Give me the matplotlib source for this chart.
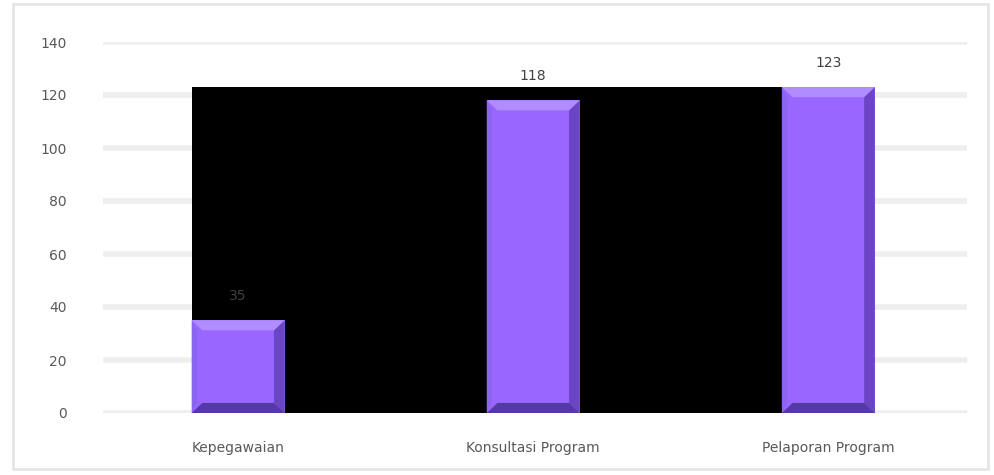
import matplotlib.pyplot as plt
from matplotlib.patches import Rectangle, Polygon

categories = ['Kepegawaian', 'Konsultasi Program', 'Pelaporan Program']
values = [35, 118, 123]
yticks = [0, 20, 40, 60, 80, 100, 120, 140]

fig = plt.figure(figsize=(9.95, 4.75), dpi=100)
ax = fig.add_axes([103 / 995, 62 / 475, 864 / 995, 371 / 475])

# light frame around the whole chart
fig.patches.append(Rectangle((13 / 995, 6 / 475), 975 / 995, 465 / 475,
                             transform=fig.transFigure, fill=False,
                             edgecolor='#e6e6e6', linewidth=2))

x = list(range(len(categories)))
w = 0.315
bx = 0.036  # bevel width (x units)
by = 3.8    # bevel height (y units)

# grid lines
for t in yticks:
    ax.axhline(t, color='#eeeeee', linewidth=4, zorder=0)

# dark backdrop behind the bars
ax.add_patch(Rectangle((x[0] - w / 2, 0), x[-1] - x[0] + w, max(values),
                       facecolor='black', edgecolor='none', zorder=1))

ax.bar(x, values, width=w, color='#9966ff', edgecolor='none', zorder=2)
for xi, v in zip(x, values):
    l, r = xi - w / 2, xi + w / 2
    # right face
    ax.add_patch(Polygon([(r - bx, by), (r, 0), (r, v), (r - bx, v - by)],
                         facecolor='#6a45c4', edgecolor='none', zorder=3))
    # bottom face
    ax.add_patch(Polygon([(l, 0), (r, 0), (r - bx, by), (l + bx, by)],
                         facecolor='#553aa6', edgecolor='none', zorder=3))
    # top face
    ax.add_patch(Polygon([(l, v), (r, v), (r - bx, v - by), (l + bx, v - by)],
                         facecolor='#b08cff', edgecolor='none', zorder=3))
    # left face
    ax.add_patch(Polygon([(l, 0), (l + bx * 0.5, by), (l + bx * 0.5, v - by), (l, v)],
                         facecolor='#8a66f0', edgecolor='none', zorder=3))
    ax.text(xi, v + 6.5, str(v), ha='center', va='bottom', fontsize=10,
            color='#404040', zorder=4)

ax.set_xlim(-0.458, 2.47)
ax.set_ylim(0, 140)
ax.set_yticks(yticks)
ax.set_xticks(x)
ax.set_xticklabels(categories)
ax.tick_params(axis='both', length=0, labelsize=10, colors='#595959')
ax.tick_params(axis='y', pad=26)
ax.tick_params(axis='x', pad=20)
for s in ax.spines.values():
    s.set_visible(False)

fig.savefig('out.png', dpi=100)
